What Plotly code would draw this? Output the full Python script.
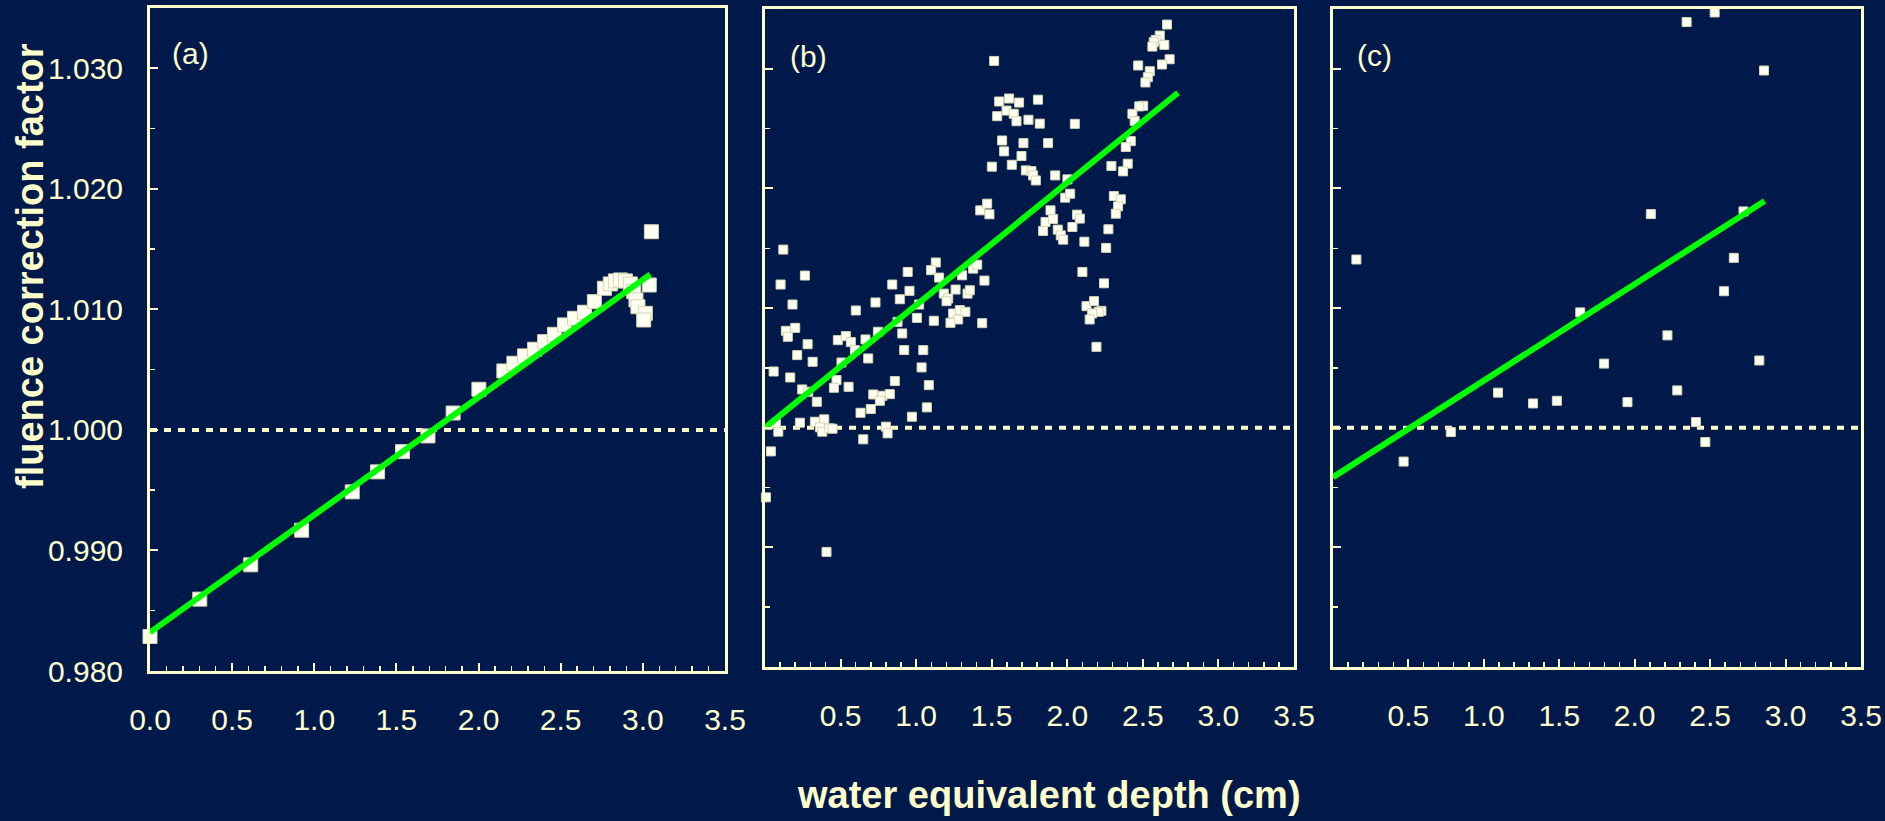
import plotly.graph_objects as go

# ---------------- data ----------------
# panel (a)
a_x = [0.000, 0.303, 0.613, 0.923, 1.231, 1.385, 1.537, 1.692, 1.845, 2.002,
       2.154, 2.215, 2.280, 2.341, 2.402, 2.462, 2.523, 2.584, 2.645, 2.705,
       2.766, 2.802, 2.833, 2.863, 2.894, 2.924, 2.944, 2.958, 2.970, 3.015,
       3.005, 3.039, 3.052]
a_y = [0.98286, 0.98596, 0.98881, 0.99168, 0.99486, 0.99652, 0.99820, 0.99950, 1.00140, 1.00337,
       1.00489, 1.00553, 1.00614, 1.00669, 1.00732, 1.00793, 1.00871, 1.00926, 1.00976, 1.01064,
       1.01175, 1.01211, 1.01236, 1.01244, 1.01236, 1.01211, 1.01147, 1.01078, 1.01022, 1.00967,
       1.00912, 1.01202, 1.01644]
a_fit_x = [0.0, 3.045]
a_fit_y = [0.9832, 1.0129]

# panel (b)
b_x = [1.516, 1.549, 1.615, 1.681, 1.536, 1.598, 1.646, 1.664, 1.743, 1.806,
       1.818, 1.569, 1.710, 1.582, 1.697, 1.633, 1.501, 1.726, 1.763, 1.774,
       1.792, 1.424, 1.470, 1.485,
       2.660, 2.612, 2.585, 2.572, 2.563, 2.642, 2.677, 2.627, 2.469, 2.546,
       2.533, 2.517, 2.502, 2.476, 2.431, 2.446, 2.420, 2.387, 2.400, 2.292,
       2.369, 2.050, 1.873, 1.920, 2.001, 1.986, 2.019, 1.889, 1.856, 1.906,
       1.840, 1.937, 1.957, 1.973, 2.034, 2.065, 2.083, 2.113, 2.100, 2.243,
       2.308, 2.354, 2.336, 2.321, 2.272, 2.257, 2.127, 2.177, 2.226, 2.208,
       2.164, 2.148, 2.193,
       0.121, 0.103, 0.264, 0.182, 0.138, 0.200, 0.151, 0.282, 0.482, 0.535,
       0.568, 0.601, 0.665, 0.731, 0.747, 0.842, 0.944, 0.956, 0.892, 1.020,
       1.005, 0.877, 0.908, 1.130, 1.099, 1.152, 1.304, 1.183, 1.212, 1.201,
       1.261, 1.340, 1.355, 1.377, 1.404, 1.452, 1.245, 1.289, 1.326, 1.278,
       1.227, 1.117, 1.437, 0.921, 1.047,
       0.213, 0.315, 0.057, 0.167, 0.246, 0.286, 0.343, 0.595, 0.683, 0.506,
       0.473, 0.456, 0.553, 1.036, 1.084, 0.859, 0.716, 0.777, 0.826, 0.760,
       0.700, 0.632, 1.071, 0.972, 0.231, 0.330, 0.392, 0.363, 0.379, 0.425,
       0.447, 0.072, 0.088, 0.800, 0.811, 0.650, 0.039, 0.006, 0.407]
b_y = [1.03066, 1.02727, 1.02752, 1.02718, 1.02604, 1.02651, 1.02624, 1.02562, 1.02574, 1.02742,
       1.02542, 1.02401, 1.02379, 1.02310, 1.02271, 1.02198, 1.02182, 1.02151, 1.02145, 1.02109,
       1.02067, 1.01817, 1.01873, 1.01784,
       1.03370, 1.03278, 1.03242, 1.03222, 1.03186, 1.03200, 1.03080, 1.03036, 1.03028, 1.02980,
       1.02930, 1.02886, 1.02691, 1.02686, 1.02624, 1.02563, 1.02396, 1.02346, 1.02207, 1.02188,
       1.02143, 1.02540, 1.02379, 1.02109, 1.02076, 1.01923, 1.01956, 1.01817, 1.01720, 1.01745,
       1.01645, 1.01656, 1.01608, 1.01572, 1.01678, 1.01781, 1.01748, 1.01555, 1.01302, 1.01207,
       1.01937, 1.01909, 1.01850, 1.01789, 1.01659, 1.01503, 1.01016, 1.01058, 1.00977, 1.00969,
       1.00955, 1.00905, 1.00676,
       1.01489, 1.01197, 1.01272, 1.01030, 1.00810, 1.00835, 1.00760, 1.00698, 1.00732, 1.00766,
       1.00716, 1.00980, 1.00738, 1.01047, 1.00802, 1.01197, 1.01302, 1.01144, 1.01074, 1.01030,
       1.00918, 1.00885, 1.00788, 1.01381, 1.01317, 1.01255, 1.01274, 1.01121, 1.01080, 1.01058,
       1.01155, 1.01121, 1.01149, 1.01330, 1.01363, 1.01230, 1.00955, 1.00983, 1.00969, 1.00905,
       1.00877, 1.00894, 1.00874, 1.00649, 1.00649,
       1.00607, 1.00551, 1.00470, 1.00420, 1.00320, 1.00301, 1.00217, 1.00649, 1.00579, 1.00545,
       1.00398, 1.00334, 1.00342, 1.00504, 1.00356, 1.00390, 1.00278, 1.00267, 1.00281, 1.00225,
       1.00156, 1.00125, 1.00170, 1.00092, 1.00042, 1.00050, 1.00070, 1.00003, 0.99967, 0.99995,
       0.99992, 1.00036, 0.99967, 1.00009, 0.99953, 0.99903, 0.99802, 0.99418, 0.98962]
b_fit_x = [0.0, 2.733]
b_fit_y = [1.0000, 1.0280]

# panel (c)
c_x = [0.155, 0.468, 0.781, 1.094, 1.326, 1.484, 1.639, 1.797, 1.952, 2.107,
       2.217, 2.282, 2.344, 2.406, 2.468, 2.530, 2.592, 2.657, 2.721, 2.826, 2.857]
c_y = [1.01406, 0.99717, 0.99964, 1.00293, 1.00203, 1.00225, 1.00964, 1.00536, 1.00214, 1.01786,
       1.00772, 1.00312, 1.03391, 1.00047, 0.99880, 1.03471, 1.01141, 1.01420, 1.01808, 1.00562, 1.02986]
c_fit_x = [0.0, 2.861]
c_fit_y = [0.99587, 1.01895]

ref_x = [0.0, 3.5]
ref_y = [1.0, 1.0]

x_ticks_a = [0.0, 0.5, 1.0, 1.5, 2.0, 2.5, 3.0, 3.5]
x_ticks_bc = [0.5, 1.0, 1.5, 2.0, 2.5, 3.0, 3.5]
y_ticks = [0.980, 0.990, 1.000, 1.010, 1.020, 1.030]
y_tick_text = ["0.980", "0.990", "1.000", "1.010", "1.020", "1.030"]
panel_labels = ["(a)", "(b)", "(c)"]

# ---------------- style ----------------
BG = "#00194B"
CREAM = "#FFFFCC"
GREEN = "#00FF00"
W, H = 1885, 821
FONT = "Liberation Sans, Arial, Helvetica, sans-serif"

# plot areas in pixels (left, right, top, bottom)
boxes = [(150, 725, 8, 671), (765, 1294, 9, 667), (1333, 1861, 9, 667)]

fig = go.Figure()

panels = [
    (a_x, a_y, a_fit_x, a_fit_y, 14),
    (b_x, b_y, b_fit_x, b_fit_y, 9),
    (c_x, c_y, c_fit_x, c_fit_y, 9),
]

for i, (px, py, fx, fy, msize) in enumerate(panels):
    xa = "x" if i == 0 else f"x{i+1}"
    ya = "y" if i == 0 else f"y{i+1}"
    fig.add_trace(go.Scatter(x=ref_x, y=ref_y, xaxis=xa, yaxis=ya, mode="lines",
                             line=dict(color=CREAM, width=4, dash="7px,7px"),
                             hoverinfo="skip"))
    fig.add_trace(go.Scatter(x=px, y=py, xaxis=xa, yaxis=ya, mode="markers",
                             marker=dict(symbol="square", size=msize, color="#FFFFF2",
                                         line=dict(color="#D6D6B4", width=1)),
                             cliponaxis=False, hoverinfo="skip"))
    fig.add_trace(go.Scatter(x=fx, y=fy, xaxis=xa, yaxis=ya, mode="lines",
                             line=dict(color=GREEN, width=6), hoverinfo="skip"))

layout = dict(
    width=W, height=H,
    paper_bgcolor=BG, plot_bgcolor=BG,
    margin=dict(l=0, r=0, t=0, b=0, autoexpand=False),
    showlegend=False,
    hovermode=False,
)

for i, (l, r, t, b) in enumerate(boxes):
    xkey = "xaxis" if i == 0 else f"xaxis{i+1}"
    ykey = "yaxis" if i == 0 else f"yaxis{i+1}"
    xname = "x" if i == 0 else f"x{i+1}"
    yname = "y" if i == 0 else f"y{i+1}"
    xt = x_ticks_a if i == 0 else x_ticks_bc
    layout[xkey] = dict(
        domain=[l / W, r / W], anchor=yname, range=[0, 3.5], automargin=False,
        showline=True, linecolor=CREAM, linewidth=3, mirror=True,
        showgrid=False, zeroline=False,
        ticks="inside", ticklen=8, tickwidth=2, tickcolor=CREAM,
        tickmode="array", tickvals=xt, ticktext=[f"{v:.1f}" for v in xt],
        minor=dict(ticks="inside", ticklen=5, tickwidth=1.5, tickcolor=CREAM,
                   tickmode="linear", tick0=0, dtick=0.1, showgrid=False),
        tickfont=dict(family=FONT, size=30, color=CREAM),
        ticklabelstandoff=20,
    )
    layout[ykey] = dict(
        domain=[1 - b / H, 1 - t / H], anchor=xname, range=[0.980, 1.035], automargin=False,
        showline=True, linecolor=CREAM, linewidth=3, mirror=True,
        showgrid=False, zeroline=False,
        ticks="inside", ticklen=8, tickwidth=2, tickcolor=CREAM,
        tickmode="array", tickvals=y_ticks, ticktext=y_tick_text,
        showticklabels=(i == 0),
        minor=dict(ticks="inside", ticklen=5, tickwidth=1.5, tickcolor=CREAM,
                   tickmode="linear", tick0=0.980, dtick=0.005, showgrid=False),
        tickfont=dict(family=FONT, size=30, color=CREAM),
        ticklabelstandoff=18,
    )

annotations = []
label_pos = [(170, 53), (788, 57), (1355, 55)]
for lab, (lx, ly) in zip(panel_labels, label_pos):
    annotations.append(dict(text=lab, xref="paper", yref="paper",
                            x=lx / W, y=1 - ly / H, xanchor="left", yanchor="middle",
                            showarrow=False, font=dict(family=FONT, size=30, color=CREAM)))
annotations.append(dict(text="<b>water equivalent depth (cm)</b>", xref="paper", yref="paper",
                        x=1049 / W, y=1 - 795 / H, xanchor="center", yanchor="middle",
                        showarrow=False, font=dict(family=FONT, size=38, color=CREAM)))
annotations.append(dict(text="<b>fluence correction factor</b>", xref="paper", yref="paper",
                        x=30 / W, y=1 - 266 / H, xanchor="center", yanchor="middle",
                        textangle=-90, showarrow=False,
                        font=dict(family=FONT, size=38, color=CREAM)))
layout["annotations"] = annotations

fig.update_layout(**layout)
fig.write_html(
    "out.html",
    config={"displayModeBar": False, "staticPlot": True},
    post_script="document.body.style.margin='0';document.body.style.padding='0';"
                "document.body.style.overflow='hidden';"
                "document.body.style.background='" + BG + "';",
)
